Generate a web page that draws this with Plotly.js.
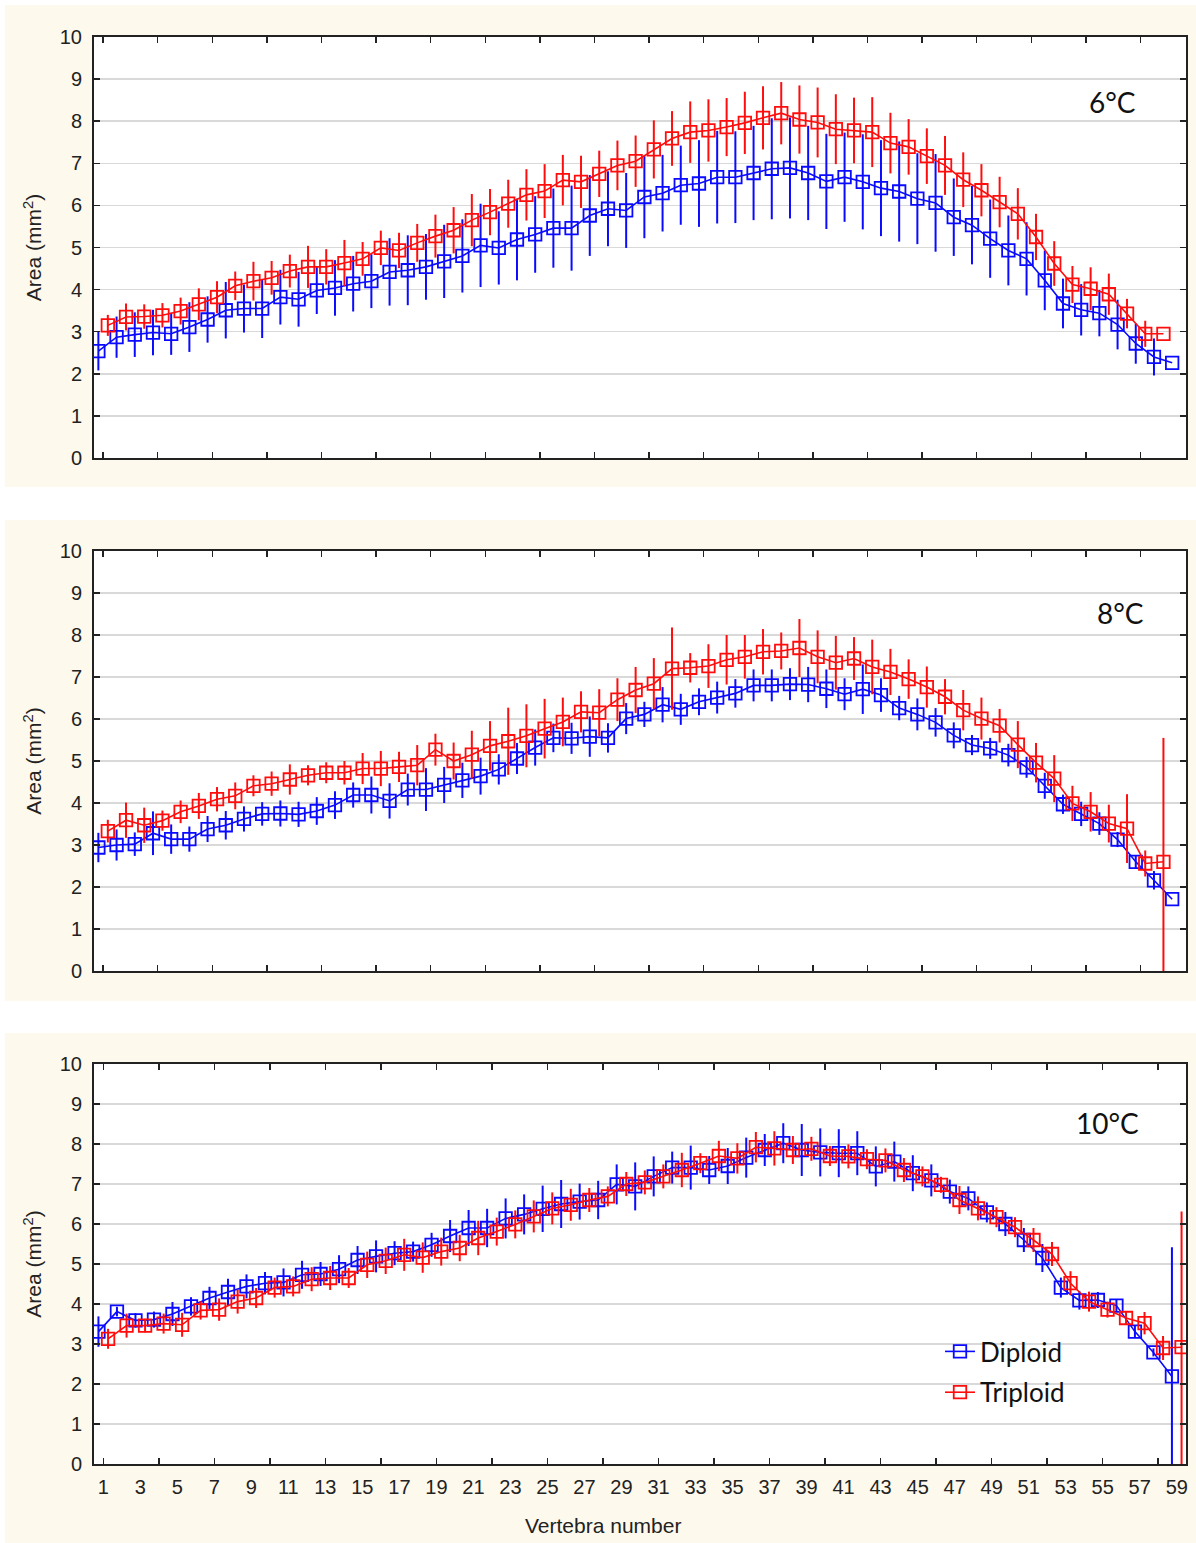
<!DOCTYPE html>
<html>
<head>
<meta charset="utf-8">
<script src="https://cdn.plot.ly/plotly-3.0.1.min.js"></script>
<style>html,body{margin:0;padding:0;background:#fff}#chart{width:1196px;height:1543px}</style>
</head>
<body>
<div id="chart"></div>
<script>
// ---------- DATA ----------
var panelLabels = ["6°C", "8°C", "10°C"];
var seriesNames = ["Diploid", "Triploid"];
var xTitle = "Vertebra number";
var yTitle = "Area (mm<sup>2</sup>)";

// 6 °C
var dip6 = [2.54,2.87,2.93,2.98,2.95,3.11,3.29,3.51,3.55,3.55, 3.82,3.77,3.98,4.04,4.14,4.20,4.42,4.46,4.54,4.67,
            4.80,5.05,4.99,5.19,5.31,5.46,5.46,5.76,5.92,5.88, 6.20,6.29,6.48,6.52,6.67,6.67,6.77,6.87,6.89,6.77,
            6.57,6.67,6.56,6.41,6.33,6.16,6.06,5.72,5.53,5.21, 4.93,4.73,4.22,3.67,3.52,3.44,3.17,2.72,2.40,2.26];
var dip6Err = [0.46,0.49,0.53,0.54,0.50,0.59,0.55,0.67,0.57,0.70, 0.65,0.65,0.56,0.66,0.66,0.64,0.80,0.83,0.78,0.87,
               0.87,0.99,0.87,0.97,0.91,0.94,1.01,0.96,0.89,0.89, 0.98,0.91,0.94,1.03,1.10,1.09,1.12,1.20,1.20,1.12,
               1.13,1.06,1.13,1.14,1.19,1.08,1.16,0.92,0.93,0.93, 0.83,0.87,0.71,0.59,0.61,0.55,0.59,0.48,0.44,0];
var tri6 = [3.15,3.35,3.36,3.39,3.49,3.65,3.82,4.09,4.20,4.28, 4.44,4.54,4.54,4.63,4.73,4.99,4.93,5.11,5.27,5.41,
            5.65,5.84,6.04,6.25,6.34,6.60,6.56,6.75,6.95,7.05, 7.33,7.59,7.74,7.78,7.86,7.96,8.08,8.19,8.04,7.97,
            7.81,7.78,7.74,7.48,7.39,7.17,6.95,6.61,6.36,6.08, 5.80,5.25,4.62,4.12,4.02,3.89,3.43,2.95,2.95];
var tri6Err = [0.25,0.32,0.29,0.29,0.32,0.38,0.38,0.34,0.46,0.40, 0.39,0.50,0.42,0.55,0.40,0.41,0.42,0.45,0.51,0.55,
               0.62,0.55,0.57,0.61,0.64,0.60,0.62,0.55,0.59,0.61, 0.69,0.65,0.73,0.74,0.69,0.74,0.75,0.74,0.81,0.83,
               0.83,0.78,0.83,0.72,0.66,0.66,0.70,0.65,0.62,0.60, 0.61,0.55,0.53,0.44,0.51,0.49,0.35,0.31,0];

// 8 °C
var dip8 = [2.94,3.00,3.02,3.28,3.14,3.14,3.38,3.47,3.62,3.74, 3.75,3.73,3.81,3.95,4.19,4.19,4.05,4.32,4.32,4.43,
            4.54,4.64,4.80,5.06,5.32,5.55,5.54,5.58,5.55,6.01, 6.11,6.34,6.23,6.41,6.51,6.61,6.80,6.80,6.83,6.82,
            6.72,6.59,6.71,6.57,6.26,6.11,5.92,5.61,5.38,5.30, 5.14,4.85,4.41,3.97,3.74,3.51,3.13,2.60,2.16,1.71];
var dip8Err = [0.35,0.37,0.28,0.52,0.35,0.30,0.31,0.34,0.30,0.28, 0.31,0.30,0.33,0.33,0.30,0.44,0.42,0.38,0.51,0.43,
               0.42,0.44,0.36,0.37,0.43,0.34,0.37,0.48,0.35,0.37, 0.30,0.42,0.37,0.32,0.38,0.34,0.38,0.38,0.38,0.42,
               0.46,0.38,0.59,0.40,0.29,0.38,0.34,0.31,0.24,0.25, 0.27,0.25,0.31,0.23,0.29,0.27,0.18,0.16,0.22,0];
var tri8 = [3.33,3.59,3.47,3.58,3.79,3.93,4.09,4.17,4.41,4.46, 4.56,4.66,4.72,4.72,4.82,4.82,4.86,4.90,5.27,5.00,
            5.15,5.36,5.47,5.60,5.77,5.93,6.17,6.15,6.46,6.69, 6.84,7.20,7.22,7.26,7.41,7.48,7.60,7.62,7.69,7.48,
            7.34,7.44,7.24,7.12,6.95,6.76,6.53,6.21,6.01,5.84, 5.39,4.96,4.58,3.99,3.79,3.51,3.39,2.56,2.60];
var tri8Err = [0.27,0.42,0.42,0.24,0.27,0.31,0.29,0.32,0.25,0.29, 0.36,0.24,0.25,0.28,0.37,0.42,0.36,0.48,0.38,0.44,
               0.57,0.59,0.80,0.75,0.71,0.58,0.49,0.56,0.51,0.55, 0.61,0.98,0.35,0.52,0.59,0.52,0.54,0.44,0.69,0.63,
               0.64,0.51,0.65,0.55,0.47,0.49,0.42,0.48,0.50,0.40, 0.56,0.47,0.56,0.42,0.47,0.45,0.82,0.31,2.95];

// 10 °C
var dip10 = [3.31,3.81,3.59,3.61,3.75,3.94,4.15,4.30,4.44,4.52, 4.54,4.73,4.75,4.87,5.10,5.19,5.27,5.31,5.48,5.70,
             5.90,5.90,6.14,6.24,6.38,6.50,6.56,6.60,6.99,6.94, 7.19,7.41,7.41,7.35,7.45,7.66,7.85,8.02,7.85,7.79,
             7.77,7.77,7.44,7.56,7.27,7.09,6.81,6.64,6.29,6.00, 5.60,5.15,4.41,4.09,4.10,3.96,3.31,2.79,2.19];
var dip10Err = [0.38,0.12,0.18,0.20,0.30,0.23,0.28,0.33,0.30,0.28, 0.35,0.35,0.30,0.35,0.35,0.40,0.30,0.25,0.30,0.40,
                0.45,0.48,0.50,0.50,0.58,0.60,0.45,0.48,0.50,0.60, 0.50,0.40,0.55,0.35,0.45,0.50,0.40,0.50,0.65,0.60,
                0.60,0.55,0.50,0.50,0.45,0.40,0.30,0.30,0.25,0.30, 0.30,0.35,0.25,0.23,0.20,0.15,0.15,0.10,3.23];
var tri10 = [3.13,3.46,3.46,3.51,3.48,3.84,3.86,4.06,4.15,4.41, 4.44,4.62,4.65,4.65,4.98,5.08,5.23,5.16,5.31,5.40,
             5.65,5.81,5.99,6.19,6.39,6.48,6.60,6.69,7.00,7.04, 7.19,7.35,7.52,7.70,7.64,7.92,7.89,7.85,7.88,7.70,
             7.69,7.62,7.59,7.35,7.19,6.98,6.60,6.39,6.17,5.92, 5.60,5.25,4.52,4.06,3.86,3.65,3.52,2.90,2.92];
var tri10Err = [0.25,0.30,0.17,0.25,0.30,0.23,0.28,0.30,0.25,0.25, 0.25,0.30,0.30,0.25,0.33,0.33,0.40,0.38,0.35,0.33,
                0.43,0.35,0.35,0.40,0.40,0.40,0.30,0.25,0.30,0.30, 0.30,0.43,0.25,0.38,0.38,0.38,0.43,0.35,0.30,0.25,
                0.30,0.25,0.30,0.30,0.25,0.20,0.35,0.30,0.25,0.25, 0.30,0.30,0.30,0.25,0.20,0.15,0.28,0.30,3.39];

// vertebra numbers and bottom tick labels
function seq(a, b, s) { var r = []; for (var v = a; v <= b; v += s) r.push(v); return r; }
var tickLabelVals = seq(1, 59, 2);
var tickLabelText = tickLabelVals.map(String);
var tickMarkVals = seq(1, 58, 3);

// ---------- STYLE ----------
var BLUE = "#0a0aff", RED = "#ff0d0d";
var DODGE = 0.26;  // side-by-side offset of the two groups
var AXFONT = {family: "Liberation Sans", size: 20, color: "#222"};
var TITLEFONT = {family: "Liberation Sans", size: 21, color: "#222"};
var LABFONT = {family: "Lato", size: 28, color: "#111"};

function trace(vals, errs, color, name, xa, ya, side, legend) {
  var xs = vals.map(function (_, i) { return (i + 1) + side * DODGE; });
  return {
    type: "scatter", mode: "lines+markers", name: name, x: xs, y: vals,
    xaxis: xa, yaxis: ya, showlegend: legend, legendgroup: name, hoverinfo: "x+y",
    line: {color: color, width: 1.6},
    marker: {symbol: "square-open", size: 12.5, color: color, line: {width: 1.8, color: color}},
    error_y: {type: "data", array: errs, visible: true, color: color, thickness: 2, width: 0}
  };
}

var data = [
  trace(dip6, dip6Err, BLUE, seriesNames[0], "x", "y", -1, false),
  trace(tri6, tri6Err, RED, seriesNames[1], "x", "y", 1, false),
  trace(dip8, dip8Err, BLUE, seriesNames[0], "x2", "y2", -1, false),
  trace(tri8, tri8Err, RED, seriesNames[1], "x2", "y2", 1, false),
  trace(dip10, dip10Err, BLUE, seriesNames[0], "x3", "y3", -1, true),
  trace(tri10, tri10Err, RED, seriesNames[1], "x4", "y3", 1, true)
];

var W = 1196, H = 1543;
var xDom = [94 / W, 1186 / W];
function yDom(top, bot) { return [(H - bot) / H, (H - top) / H]; }

function markAxis(extra) {
  var a = {
    domain: xDom, tickmode: "array", tickvals: tickMarkVals, ticks: "inside", ticklen: 6,
    tickwidth: 1.5, tickcolor: "#222", showticklabels: false, showline: true, linecolor: "#222",
    linewidth: 2, mirror: "ticks", showgrid: false, zeroline: false, fixedrange: true
  };
  for (var k in extra) a[k] = extra[k];
  return a;
}
function valAxis(extra) {
  var a = {
    range: [0, 10], tickmode: "linear", tick0: 0, dtick: 1, ticks: "inside", ticklen: 6,
    tickwidth: 1.5, tickcolor: "#222", showline: true, linecolor: "#222", linewidth: 2,
    mirror: "ticks", showgrid: true, gridcolor: "#d9d9d9", gridwidth: 1.5, zeroline: false,
    tickfont: AXFONT, ticklabelstandoff: 6, fixedrange: true,
    title: {text: yTitle, font: TITLEFONT, standoff: 12}
  };
  for (var k in extra) a[k] = extra[k];
  return a;
}

var panels = [[5, 487], [520, 1001], [1033, 1543]];
var shapes = panels.map(function (p) {
  return {type: "rect", xref: "paper", yref: "paper", x0: 5 / W, x1: 1, y0: (H - p[1]) / H, y1: (H - p[0]) / H,
          fillcolor: "#fef9ed", line: {width: 0}, layer: "below"};
});
[["x", "y"], ["x2", "y2"], ["x3", "y3"]].forEach(function (ax) {
  shapes.push({type: "rect", xref: ax[0] + " domain", yref: ax[1] + " domain", x0: 0, x1: 1, y0: 0, y1: 1,
               fillcolor: "#ffffff", line: {width: 0}, layer: "below"});
});

var layout = {
  width: W, height: H, margin: {l: 0, r: 0, t: 0, b: 0},
  paper_bgcolor: "#ffffff", plot_bgcolor: "rgba(0,0,0,0)",
  showlegend: true,
  xaxis: markAxis({anchor: "y", range: [0.5, 60.5]}),
  yaxis: valAxis({anchor: "x", domain: yDom(37, 458)}),
  xaxis2: markAxis({anchor: "y2", range: [0.5, 60.5]}),
  yaxis2: valAxis({anchor: "x2", domain: yDom(551, 971)}),
  xaxis3: {
    domain: xDom, anchor: "y3", range: [0.5, 59.5], tickmode: "array", tickvals: tickLabelVals,
    ticktext: tickLabelText, ticks: "", ticklabelstandoff: 9, showline: false, showgrid: false, zeroline: false,
    tickfont: AXFONT, fixedrange: true
  },
  xaxis4: markAxis({anchor: "y3", overlaying: "x3", range: [0.5, 59.5]}),
  yaxis3: valAxis({anchor: "x3", domain: yDom(1064, 1464)}),
  legend: {
    x: 940 / W, xanchor: "left", y: (H - 1328) / H, yanchor: "top", bgcolor: "rgba(0,0,0,0)",
    font: {family: "Lato", size: 26, color: "#111"}, itemwidth: 30,
    tracegroupgap: 4
  },
  shapes: shapes,
  annotations: [
    {xref: "x domain", yref: "y domain", x: 0.933, y: 0.846, xanchor: "center", yanchor: "middle",
     text: panelLabels[0], showarrow: false, font: LABFONT},
    {xref: "x2 domain", yref: "y2 domain", x: 0.94, y: 0.852, xanchor: "center", yanchor: "middle",
     text: panelLabels[1], showarrow: false, font: LABFONT},
    {xref: "x3 domain", yref: "y3 domain", x: 0.928, y: 0.853, xanchor: "center", yanchor: "middle",
     text: panelLabels[2], showarrow: false, font: LABFONT},
    {xref: "paper", yref: "paper", x: 603 / W, y: (H - 1525) / H, xanchor: "center", yanchor: "middle",
     text: xTitle, showarrow: false, font: TITLEFONT}
  ]
};

Plotly.newPlot("chart", data, layout, {displayModeBar: false, staticPlot: true});
</script>
</body>
</html>
